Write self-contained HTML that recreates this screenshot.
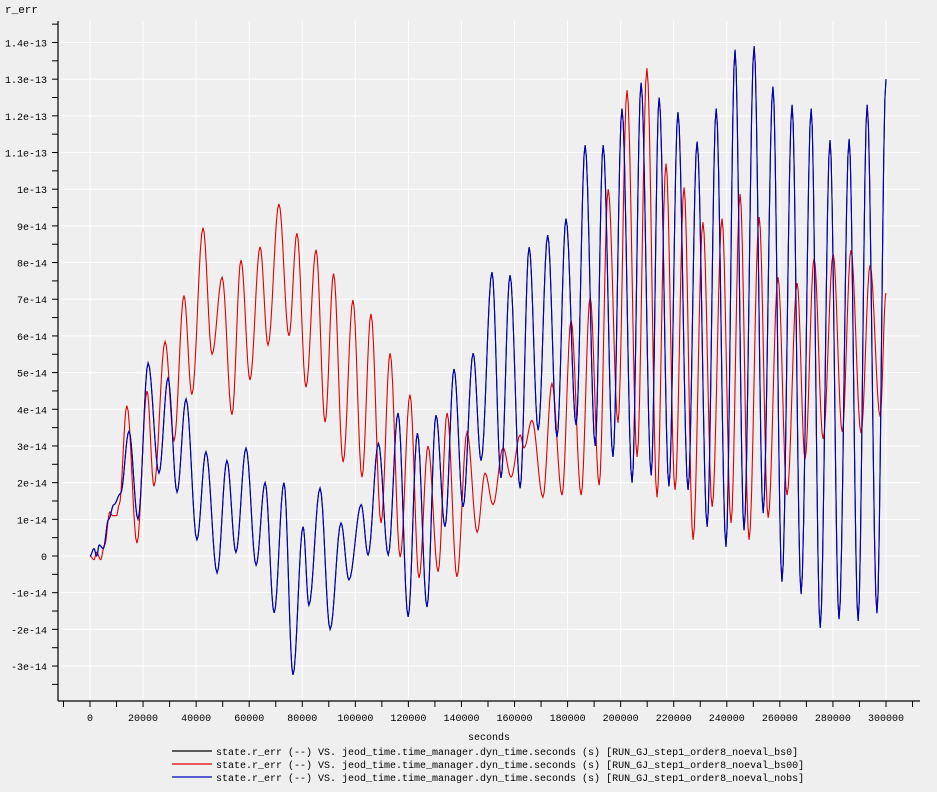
<!DOCTYPE html>
<html><head><meta charset="utf-8"><style>
body{margin:0;background:#efefef;}
svg{display:block;font-family:"Liberation Mono","DejaVu Sans Mono",monospace;}
</style></head><body>
<svg id="chart" width="937" height="792" viewBox="0 0 937 792">
<rect x="0" y="0" width="937" height="792" fill="#efefef"/>
<g id="grid"></g>
<g id="series"></g>
<g id="axes"></g>
<text x="5" y="13" font-size="11" fill="#000">r_err</text>
<text x="489" y="740" font-size="10" fill="#000" text-anchor="middle">seconds</text>
<g>
<g><line x1="172" y1="751" x2="212" y2="751" stroke="#000" stroke-width="1.2"/><text x="216" y="755" font-size="10">state.r_err (--) VS. jeod_time.time_manager.dyn_time.seconds (s) [RUN_GJ_step1_order8_noeval_bs0]</text></g>
<g><line x1="172" y1="764" x2="212" y2="764" stroke="#e00000" stroke-width="1.2"/><text x="216" y="768" font-size="10">state.r_err (--) VS. jeod_time.time_manager.dyn_time.seconds (s) [RUN_GJ_step1_order8_noeval_bs00]</text></g>
<g><line x1="172" y1="777" x2="212" y2="777" stroke="#0000c0" stroke-width="1.2"/><text x="216" y="781" font-size="10">state.r_err (--) VS. jeod_time.time_manager.dyn_time.seconds (s) [RUN_GJ_step1_order8_noeval_nobs]</text></g>
</g>
</svg>
<script>
// x ticks (seconds), y ticks (units of 1e-14)
const xTicks = [0,20000,40000,60000,80000,100000,120000,140000,160000,180000,200000,220000,240000,260000,280000,300000];
const yTicks = [-3,-2,-1,0,1,2,3,4,5,6,7,8,9,10,11,12,13,14];
const yTickLabels = ["-3e-14","-2e-14","-1e-14","0","1e-14","2e-14","3e-14","4e-14","5e-14","6e-14","7e-14","8e-14","9e-14","1e-13","1.1e-13","1.2e-13","1.3e-13","1.4e-13"];

// extrema of the nobs (blue) series, and bs0 (black, overlapped by blue)
const blueT = [0,1500,2500,3500,5000,7000,9000,11500,14700,18100,21900,26000,29400,32800,36200,40300,43700,47900,51600,55000,58800,62600,66000,69400,73100,76500,80300,82500,86700,90500,94600,97600,102200,104800,108700,112400,116100,119900,123400,127000,130400,133800,137200,140600,144400,147400,151500,154900,158300,162100,165500,168900,172500,176000,179400,183200,186600,190400,193400,197100,200500,204300,207700,211500,214500,218200,221600,225400,228800,232600,236000,239700,243100,246500,250300,253700,257400,260800,264600,268000,271800,275200,278900,282300,286100,289500,292900,296600,300000];
const blueV = [0,0.2,0,0.3,0.2,1.0,1.4,1.7,3.4,1.0,5.26,2.26,4.85,1.74,4.28,0.44,2.84,-0.46,2.6,0.1,2.94,-0.25,2.0,-1.55,2.0,-3.24,0.8,-1.34,1.85,-2.0,0.9,-0.65,1.4,0.03,3.07,0.03,3.9,-1.66,3.35,-1.39,3.84,0.8,5.1,1.34,5.53,2.6,7.74,2.13,7.66,1.85,8.42,3.43,8.75,3.24,9.2,3.57,11.2,3.0,11.2,2.7,12.2,2.0,12.9,2.2,12.5,1.9,12.1,1.8,11.3,0.8,12.2,0.25,13.8,0.7,13.9,1.17,12.8,-0.7,12.3,-1.04,12.2,-1.96,11.34,-1.72,11.37,-1.77,12.3,-1.56,13.0];
const blackT = blueT.slice();
const blackV = blueV.slice();
// extrema of the bs00 (red) series
const redT = [0,1500,2500,4000,5500,7500,8500,10000,11000,13900,17700,21500,24100,28300,31700,35400,38400,42600,46000,49800,53500,56900,60300,64100,67100,71200,75000,78000,81400,85200,88600,91800,95400,99100,102500,105900,109700,113100,116900,120600,124000,127400,131200,134600,138300,142100,145900,148900,151900,155700,158700,162100,163600,166600,170700,174100,177900,181300,185100,188500,191900,195300,199000,202400,206200,209900,213700,217100,220500,223900,227300,231000,234500,238200,241600,245000,248400,252200,255600,259300,262700,266500,269500,272900,276300,280100,283500,286800,290600,294000,297800,300000];
const redV = [0,-0.1,0.1,-0.1,0.3,1.2,1.1,1.1,1.4,4.1,0.35,4.5,1.9,5.85,3.15,7.1,4.4,8.95,5.5,7.6,3.85,8.07,4.8,8.43,5.75,9.6,6.0,8.8,4.6,8.35,3.65,7.7,2.56,6.98,2.15,6.6,0.9,5.53,-0.03,4.4,-0.6,3.0,-0.43,3.9,-0.57,3.38,0.65,2.26,1.4,2.95,2.15,3.3,2.95,3.7,1.6,4.7,1.66,6.43,1.66,7.06,1.93,10.0,3.63,12.7,2.7,13.3,1.6,10.7,1.8,10.05,0.44,9.1,1.34,9.2,0.9,9.87,0.44,9.24,1.04,7.6,1.66,7.44,2.64,8.12,3.19,8.23,3.38,8.34,3.35,7.93,3.8,7.17];

const NS = "http://www.w3.org/2000/svg";
const L = 58, R = 920, T = 21, B = 701;
function xs(t){ return 90 + t * 0.0026533; }
function ys(v){ return 556 - v * 36.68; }
function mk(tag, attrs, parent){
  const e = document.createElementNS(NS, tag);
  for (const k in attrs) e.setAttribute(k, attrs[k]);
  parent.appendChild(e); return e;
}
const grid = document.getElementById('grid');
const axes = document.getElementById('axes');
const series = document.getElementById('series');

xTicks.forEach(t => {
  const g = mk('line', {x1: xs(t), x2: xs(t), y1: T, y2: B, stroke: '#ffffff', 'stroke-width': 1}, grid);
  
  
  const lb = mk('text', {x: xs(t), y: B + 20, 'font-size': 10, 'text-anchor': 'middle', fill: '#000'}, axes);
  lb.textContent = String(t);
  
  
});
for (let t = -10000; t <= 310000; t += 10000) {
  const tk = mk('line', {x1: xs(t), x2: xs(t), y1: B, y2: B + 6, stroke: '#000', 'stroke-width': 1}, axes);
  
  
}
yTicks.forEach((v, i) => {
  const g = mk('line', {x1: L, x2: R, y1: ys(v), y2: ys(v), stroke: '#ffffff', 'stroke-width': 1}, grid);
  
  
  const lb = mk('text', {x: 47, y: ys(v) + 4, 'font-size': 10, 'text-anchor': 'end', fill: '#000'}, axes);
  lb.textContent = yTickLabels[i];
  
  
});
for (let v = -3.5; v <= 14.5; v += 0.5) {
  const tk = mk('line', {x1: L - 6, x2: L, y1: ys(v), y2: ys(v), stroke: '#000', 'stroke-width': 1}, axes);
  
  
}
const ax1 = mk('line', {x1: L, x2: L, y1: T, y2: B, stroke: '#000', 'stroke-width': 1.2}, axes);


const ax2 = mk('line', {x1: L, x2: R, y1: B, y2: B, stroke: '#000', 'stroke-width': 1.2}, axes);



function path(ts, vs){
  let d = 'M' + xs(ts[0]).toFixed(2) + ' ' + ys(vs[0]).toFixed(2);
  for (let i = 1; i < ts.length; i++) {
    const n = 8;
    for (let k = 1; k <= n; k++) {
      const f = k / n, w = (1 - Math.cos(Math.PI * f)) / 2;
      const t = ts[i-1] + (ts[i] - ts[i-1]) * f;
      const v = vs[i-1] + (vs[i] - vs[i-1]) * w;
      d += 'L' + xs(t).toFixed(2) + ' ' + ys(v).toFixed(2);
    }
  }
  return d;
}
const pk = mk('path', {d: path(blackT, blackV), fill: 'none', stroke: '#000000', 'stroke-width': 1.1}, series);


const pr = mk('path', {d: path(redT, redV), fill: 'none', stroke: '#e00000', 'stroke-width': 1.1}, series);


const pb = mk('path', {d: path(blueT, blueV), fill: 'none', stroke: '#0000c0', 'stroke-width': 1.1}, series);


</script>
</body></html>
